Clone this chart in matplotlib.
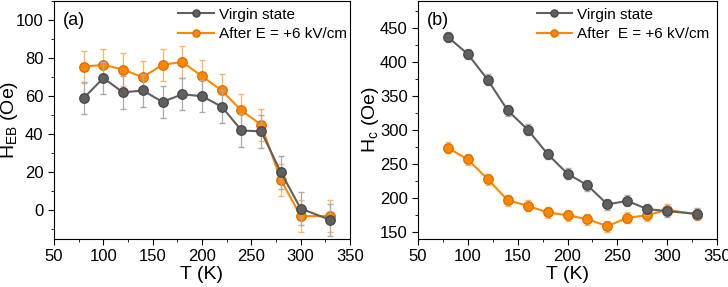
import matplotlib
matplotlib.use("Agg")
import matplotlib.pyplot as plt
from matplotlib.ticker import MultipleLocator

plt.rcParams['font.family'] = ['Liberation Sans', 'DejaVu Sans']

T = [80, 100, 120, 140, 160, 180, 200, 220, 240, 260, 280, 300, 330]

heb_virgin = [59, 69.5, 62, 63, 57, 61, 60, 54.5, 42, 41.5, 20, 1, -5]
heb_virgin_err = [8.5, 8.5, 8.5, 8.5, 8.5, 8.5, 8.5, 8.5, 8.5, 8.5, 8.5, 8.5, 8.5]
heb_after = [75.5, 76.5, 74, 70, 76.5, 78, 70.5, 63, 52.5, 45, 16, -3, -3]
heb_after_err = [8.5, 8.5, 8.5, 8.5, 8.5, 8.5, 8.5, 8.5, 8.5, 8.5, 8.5, 8.5, 8.5]

hc_virgin = [437, 412, 374, 329, 301, 265, 236, 219, 191, 196, 184, 181, 177]
hc_virgin_err = [8, 8, 8, 8, 8, 8, 8, 8, 8, 8, 8, 8, 8]
hc_after = [274, 257, 228, 197, 189, 179, 175, 169, 159, 171, 175, 183, 176]
hc_after_err = [8, 8, 8, 8, 8, 8, 8, 8, 8, 8, 8, 8, 8]

GRAY = '#606060'
ORANGE = '#ff8800'

fig = plt.figure(figsize=(7.28, 2.87), dpi=100)
W, H = 728, 287
axa = fig.add_axes([54/W, (H-239)/H, (350-54)/W, 238/H])
axb = fig.add_axes([418/W, (H-239)/H, (717-418)/W, 238/H])

def draw(ax, yv, ev, ya, ea, lab2, bbox):
    ax.errorbar(T, yv, yerr=ev, color=GRAY, lw=1.5, marker='o', ms=6.8,
                mfc=GRAY, mec='#4a4a4a', ecolor='#ababab', elinewidth=0.9, capsize=2.5,
                label='Virgin state', zorder=3)
    ax.errorbar(T, ya, yerr=ea, color=ORANGE, lw=1.5, marker='o', ms=6.8,
                mfc=ORANGE, mec='#e07000', ecolor='#ffb566', elinewidth=0.9, capsize=2.5,
                label=lab2, zorder=2)
    ax.set_xlim(50, 350)
    ax.xaxis.set_major_locator(MultipleLocator(50))
    ax.xaxis.set_minor_locator(MultipleLocator(25))
    ax.tick_params(which='both', direction='out', labelsize=12, pad=3)
    ax.tick_params(which='major', length=4.5)
    ax.tick_params(which='minor', length=2.5)
    ax.set_xlabel('T (K)', fontsize=14, labelpad=1)
    handles, labels = ax.get_legend_handles_labels()
    handles = [h[0] for h in handles]
    ax.legend(handles, labels, loc='upper right', bbox_to_anchor=bbox, frameon=False,
              fontsize=11, handlelength=2.3, handletextpad=0.35, borderaxespad=0.0,
              borderpad=0.2, labelspacing=0.35, markerscale=0.75)

draw(axa, heb_virgin, heb_virgin_err, heb_after, heb_after_err, 'After E = +6 kV/cm', (1.0, 0.985))
axa.set_ylim(-15, 110)
axa.yaxis.set_major_locator(MultipleLocator(20))
axa.yaxis.set_minor_locator(MultipleLocator(10))
axa.set_ylabel(r'H$_{\mathregular{EB}}$ (Oe)', fontsize=14)
axa.yaxis.set_label_coords(-0.115, 0.5)
axa.text(0.03, 0.955, '(a)', transform=axa.transAxes, fontsize=13, va='top', ha='left')

draw(axb, hc_virgin, hc_virgin_err, hc_after, hc_after_err, 'After  E = +6 kV/cm', (0.985, 0.985))
axb.set_ylim(140, 490)
axb.yaxis.set_major_locator(MultipleLocator(50))
axb.yaxis.set_minor_locator(MultipleLocator(25))
axb.set_ylabel(r'H$_{\mathregular{c}}$ (Oe)', fontsize=14)
axb.yaxis.set_label_coords(-0.124, 0.5)
axb.text(0.03, 0.955, '(b)', transform=axb.transAxes, fontsize=13, va='top', ha='left')

fig.savefig('out.png', dpi=100)
